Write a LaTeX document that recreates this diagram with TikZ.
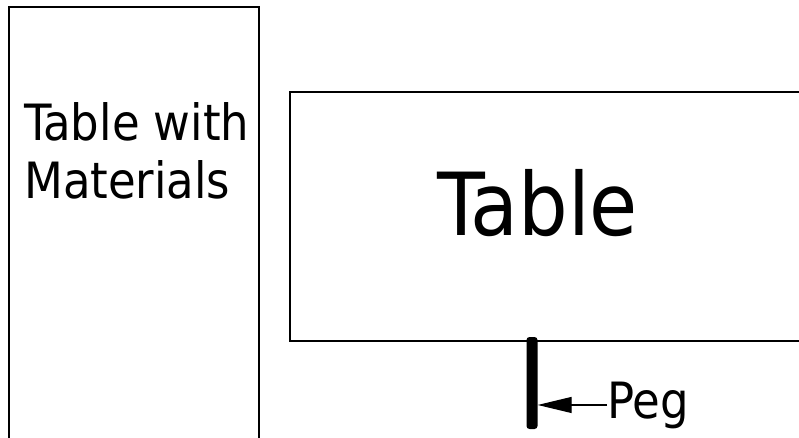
\documentclass[tikz,border=0pt]{standalone}
\usepackage{fontspec}
\setmainfont{DejaVu Sans Condensed}
\usetikzlibrary{arrows.meta}

\begin{document}
\begin{tikzpicture}[x=1pt, y=-1pt,
	tablebox/.style={draw=black, line width=2pt},
	label/.style={inner sep=0pt, font=\fontsize{50}{58}\selectfont}]
	\useasboundingbox (0,0) rectangle (799,438);
	
	\draw[tablebox] (8.5,7.5) rectangle (258.5,460);
	\draw[tablebox] (289.5,92.5) rectangle (830,340.5);
	
	\node[label, align=left, anchor=base west] (materials) at (24,199) {Table with\\Materials};
	\node[label, font=\fontsize{87}{100}\selectfont, anchor=base west] (table) at (437,235) {Table};
	
	\node[fill=black, inner sep=0pt, minimum width=11pt, minimum height=92pt, rounded corners=3pt] (peg) at (532,383) {};
	\node[label, anchor=base west] (peglabel) at (607,418) {Peg};
	
	\draw[line width=1.2pt, -{Triangle[length=34pt, width=16pt]}] (peglabel.west) -- (peg.east |- peglabel.west);
	
\end{tikzpicture}
\end{document}
